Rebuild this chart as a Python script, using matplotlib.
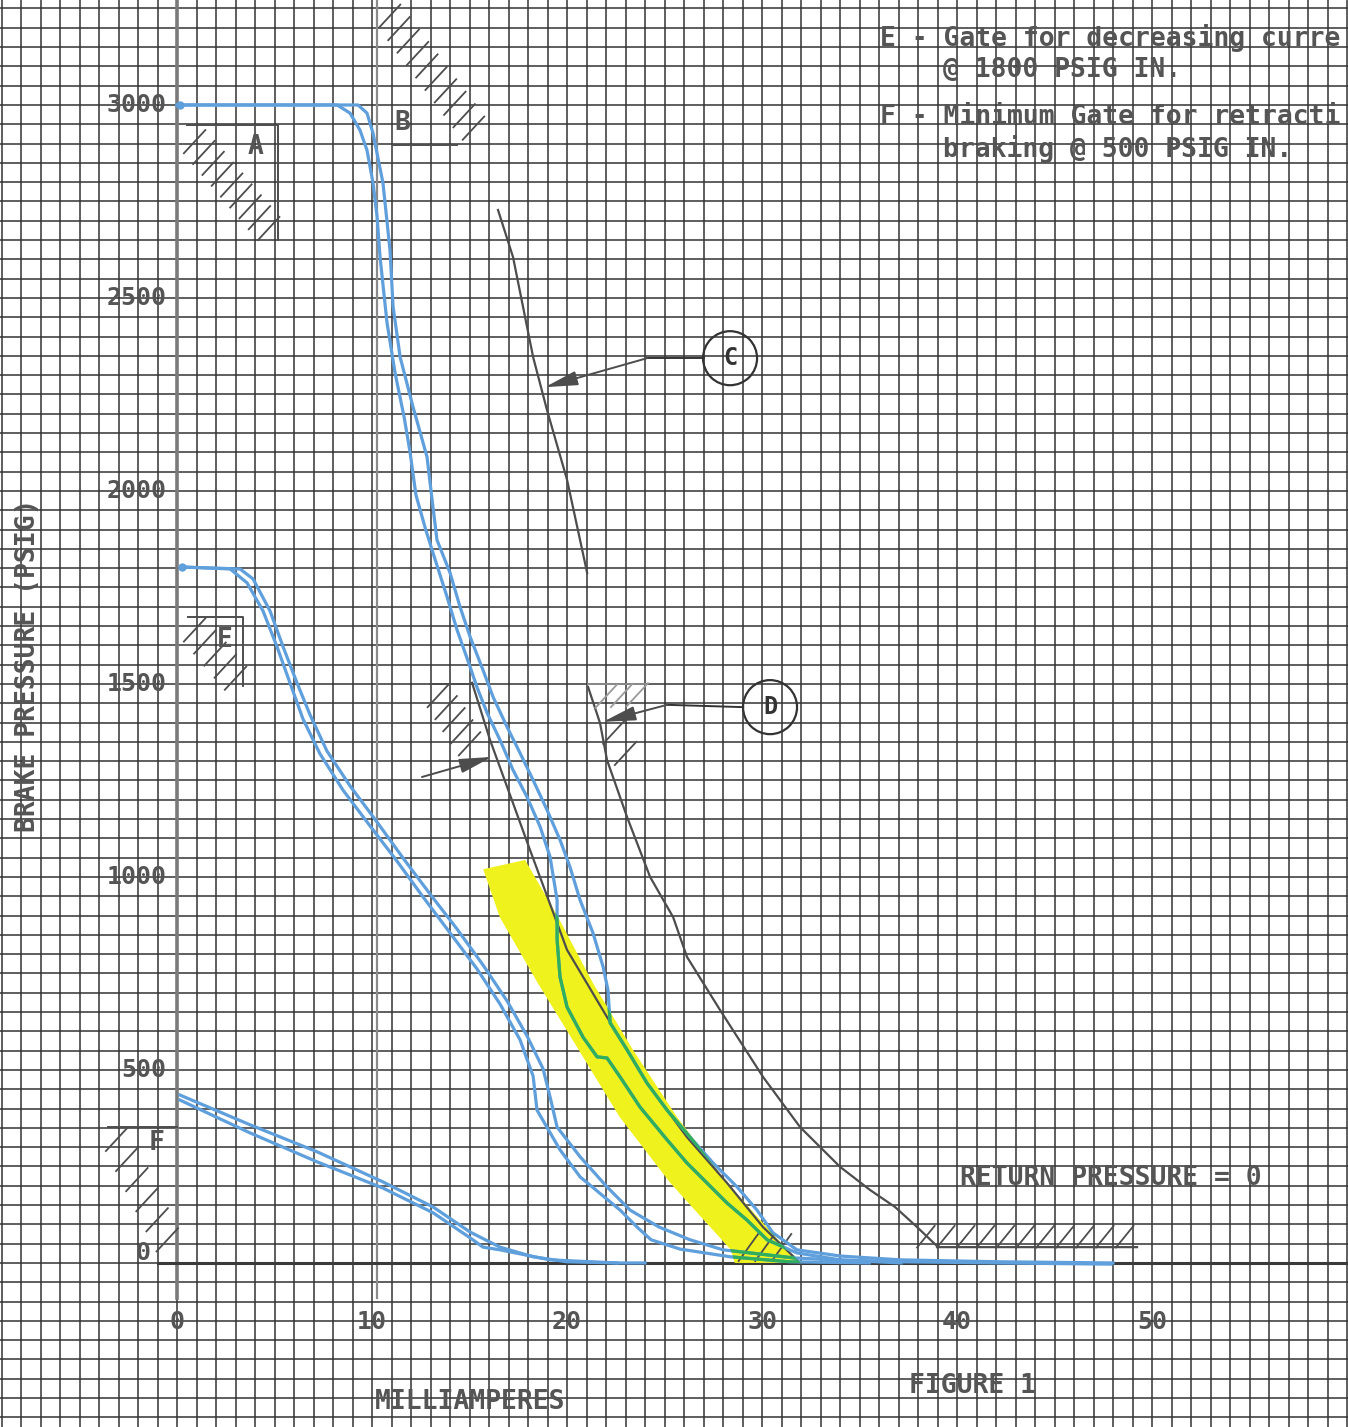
import matplotlib
matplotlib.use('Agg')
import matplotlib.pyplot as plt
from matplotlib.patches import Polygon, Ellipse
import numpy as np

# ---- curves: current (mA) vs brake pressure (psig) ----
hi_in_ma = [0, 8.21, 8.87, 9.38, 9.74, 10.05, 10.26, 10.41, 10.77, 11.18, 11.65, 11.95, 12.25,
            12.75, 13.13, 13.85, 14.36, 15.03, 15.38, 15.90, 16.56, 17.23, 17.95, 18.62, 19.13,
            19.49, 19.49, 19.64, 20.0, 20.82, 21.54, 22.05, 22.72, 23.74, 25.13, 26.15, 27.18,
            28.21, 29.23, 30.26, 31.79, 34.0, 37.1, 42.2, 47.9]
hi_in_psi = [3000, 3000, 2979, 2935, 2883, 2798, 2710, 2606, 2435, 2306, 2190, 2100, 1990,
             1900, 1839, 1725, 1640, 1544, 1492, 1425, 1355, 1277, 1207, 1130, 1052,
             940, 837, 741, 663, 585, 534, 531, 482, 404, 319, 259, 207,
             155, 111, 60, 26, 8, 3, 0, -3]

hi_out_ma = [0, 9.28, 9.74, 10.05, 10.56, 10.92, 11.08, 11.44, 12.10, 12.82, 13.08, 13.33, 14.0,
             14.51, 15.03, 15.69, 16.21, 16.92, 17.59, 18.26, 18.97, 19.64, 20.15, 20.67, 21.33,
             21.85, 22.10, 22.21, 23.08, 24.10, 25.13, 26.31, 27.49, 28.72, 29.74, 30.56, 31.79,
             34.0, 37.1, 42.2, 48.0]
hi_out_psi = [3000, 3000, 2979, 2927, 2798, 2624, 2477, 2347, 2218, 2088, 1977, 1873, 1788,
              1700, 1622, 1536, 1466, 1389, 1321, 1251, 1174, 1096, 1026, 940, 855,
              767, 707, 622, 552, 466, 396, 326, 259, 197, 137, 78, 34,
              18, 8, 3, 0]

mid_in_ma = [0.26, 2.72, 3.59, 4.41, 5.13, 5.79, 6.46, 7.33, 8.51, 9.90, 11.28, 12.62, 14.0,
             15.38, 16.56, 17.59, 18.26, 18.46, 19.64, 20.67, 22.72, 23.59, 24.31, 25.79, 28.36,
             31.4, 35.5]
mid_in_psi = [1803, 1798, 1762, 1689, 1596, 1503, 1409, 1319, 1225, 1132, 1041, 948, 855,
              762, 671, 578, 484, 396, 293, 223, 137, 93, 60, 36, 16,
              3, 0]

mid_out_ma = [0.26, 3.23, 3.90, 4.77, 5.44, 6.15, 6.82, 7.69, 8.87, 10.26, 11.59, 12.97, 14.36,
              15.69, 16.92, 17.95, 18.77, 19.13, 19.49, 20.67, 22.05, 23.23, 24.72, 26.31, 28.0,
              31.64, 37.13]
mid_out_psi = [1803, 1798, 1772, 1689, 1596, 1503, 1420, 1326, 1236, 1142, 1049, 956, 865,
               772, 679, 588, 503, 430, 352, 275, 197, 137, 93, 60, 34,
               13, 0]

lo_up_ma = [0.15, 3.74, 7.18, 10.56, 13.13, 15.03, 16.56, 18.26, 20.0, 22.56, 24.0]
lo_up_psi = [435, 358, 288, 210, 145, 80, 41, 16, 3, 0, 0]
lo_dn_ma = [0.15, 3.74, 7.18, 10.56, 13.13, 15.03, 15.69, 16.56, 19.13, 22.56]
lo_dn_psi = [422, 337, 262, 194, 130, 65, 41, 34, 8, 0]

# gate curves (pencil)
gate_c_ma = [16.46, 17.23, 18.26, 18.97, 20.0, 21.03]
gate_c_psi = [2728, 2606, 2347, 2210, 2029, 1788]
gate_1_ma = [15.13, 16.05, 17.08, 18.10, 20.0, 22.05, 24.10, 26.15, 28.21, 30.05, 31.95]
gate_1_psi = [1503, 1355, 1212, 1070, 811, 637, 466, 326, 207, 93, 0]
gate_d_ma = [21.08, 21.69, 22.05, 23.08, 24.26, 25.44, 26.15, 27.85, 30.05, 31.95, 34.0,
             35.54, 36.82, 37.95, 39.03, 49.23]
gate_d_psi = [1492, 1399, 1303, 1155, 1000, 896, 793, 655, 482, 352, 249,
              189, 145, 93, 41, 41]

# highlighted band
band_ma = [15.70, 17.85, 19.54, 21.33, 23.38, 25.64, 28.21, 31.28, 32.0,
           28.6, 28.4, 25.3, 22.7, 20.6, 18.5, 16.55]
band_psi = [1020, 1044, 896, 725, 552, 378, 207, 34, 0,
            0, 34, 207, 378, 552, 725, 896]

x_ticks = [0, 10, 20, 30, 40, 50]
y_ticks = [0, 500, 1000, 1500, 2000, 2500, 3000]

blue = '#5e9fdc'
green = '#2fae5c'
yellow = '#eff21c'
ink = '#4d4d4d'
typ = '#555555'
mono = 'DejaVu Sans Mono'

fig = plt.figure(figsize=(13.48, 14.27), dpi=100)
ax = fig.add_axes([0, 0, 1, 1])
ax.set_xlim(-9.08, 60.05)
ax.set_ylim(-425, 3272)
ax.axis('off')

# graph paper
for gx in np.arange(-9, 61, 1):
    ax.axvline(gx, color='#333333', lw=1.1, zorder=1)
for gy in np.arange(-400, 3300, 50):
    ax.axhline(gy, color='#333333', lw=1.1, zorder=1)

# drawn axes
ax.plot([0, 0], [-90, 3272], color='#7a7a7a', lw=2.6, zorder=2)
ax.plot([10.26, 10.26], [-90, 3272], color='#8a8a8a', lw=1.6, zorder=2)
ax.plot([-1.0, 60.05], [0, 0], color='#3a3a3a', lw=2.2, zorder=2)

band = Polygon(np.column_stack([band_ma, band_psi]), closed=True,
               facecolor=yellow, edgecolor='none', zorder=2)
ax.add_patch(band)

for xs, ys in [(gate_c_ma, gate_c_psi), (gate_1_ma, gate_1_psi), (gate_d_ma, gate_d_psi)]:
    ax.plot(xs, ys, color=ink, lw=1.6, zorder=3)


def hatch(x0, y0, x1, y1, n, dx=0.55, dy=30, color=ink, lw=1.3):
    for t in np.linspace(0, 1, n):
        cx = x0 + t * (x1 - x0)
        cy = y0 + t * (y1 - y0)
        ax.plot([cx - dx, cx + dx], [cy - dy, cy + dy], color=color, lw=lw, zorder=3)


# gate A
ax.plot([0.51, 5.18, 5.18], [2948, 2948, 2650], color=ink, lw=1.4, zorder=3)
hatch(0.9, 2905, 4.7, 2680, 9)
# gate B
ax.plot([11.08, 14.36], [2896, 2896], color=ink, lw=1.4, zorder=3)
hatch(10.9, 3230, 15.2, 2940, 10)
# gate E
ax.plot([0.56, 3.38, 3.38], [1674, 1674, 1495], color=ink, lw=1.4, zorder=3)
hatch(0.9, 1640, 3.0, 1515, 5)
# gate F
ax.plot([-3.54, 0], [352, 352], color=ink, lw=1.4, zorder=3)
hatch(-3.1, 320, -0.5, 60, 6)
# top of lower gate curve
ax.plot([12.97, 15.13], [1500, 1500], color=ink, lw=1.4, zorder=3)
hatch(13.4, 1470, 15.0, 1345, 5)
# D gate top and bottom
ax.plot([21.08, 24.0], [1500, 1500], color='#8a8a8a', lw=1.4, zorder=3)
hatch(22.0, 1468, 23.6, 1472, 3, color='#9a9a9a')
hatch(22.4, 1375, 23.0, 1320, 2)
hatch(38.4, 68, 48.6, 68, 11, dx=0.45, dy=28)
hatch(29.3, 40, 31.0, 40, 3, dx=0.5, dy=35)

# blue pen curves, green where they cross the highlighter
series = [(hi_in_ma, hi_in_psi), (hi_out_ma, hi_out_psi), (mid_in_ma, mid_in_psi),
          (mid_out_ma, mid_out_psi), (lo_up_ma, lo_up_psi), (lo_dn_ma, lo_dn_psi)]
for xs, ys in series:
    ax.plot(xs, ys, color=blue, lw=2.3, solid_joinstyle='round', zorder=4)
    g, = ax.plot(xs, ys, color=green, lw=2.3, solid_joinstyle='round', zorder=5)
    g.set_clip_path(band)
ax.plot([0.15, 0.26], [3000, 1803], 'o', color=blue, ms=5, zorder=4)

# callouts
for cx, cy, lab in [(28.36, 2344, 'C'), (30.41, 1440, 'D')]:
    ax.add_patch(Ellipse((cx, cy), 2.77, 140, facecolor='none', edgecolor='#333333',
                         lw=1.6, zorder=4))
    ax.text(cx, cy, lab, ha='center', va='center', fontsize=17, family=mono,
            fontweight='bold', color='#333333', zorder=6)
arrow = dict(arrowstyle='-|>,head_length=1.0,head_width=0.22', color=ink, lw=1.4,
             shrinkA=0, shrinkB=0, mutation_scale=20)
ax.plot([27.0, 24.10], [2344, 2344], color='#333333', lw=1.4, zorder=4)
ax.annotate('', xy=(18.87, 2269), xytext=(24.10, 2344), arrowprops=arrow, zorder=4)
ax.plot([29.03, 25.13], [1440, 1446], color='#333333', lw=1.4, zorder=4)
ax.annotate('', xy=(21.85, 1402), xytext=(25.13, 1446), arrowprops=arrow, zorder=4)
ax.annotate('', xy=(16.15, 1311), xytext=(12.56, 1259), arrowprops=arrow, zorder=4)

# tick labels
for v in y_ticks:
    ax.text(-1.38 if v == 0 else -0.55, v + (25 if v == 0 else 0), str(v), ha='right',
            va='center', fontsize=18, family=mono, fontweight='bold', color=typ, zorder=6)
for v in x_ticks:
    ax.text(v, -153, str(v), ha='center', va='center', fontsize=18, family=mono,
            fontweight='bold', color=typ, zorder=6)

tk = dict(fontsize=19, family=mono, fontweight='bold', color=typ, zorder=6)
ax.text(-7.64, 1549, 'BRAKE PRESSURE (PSIG)', rotation=90, ha='center', va='center', **tk)
ax.text(15.03, -360, 'MILLIAMPERES', ha='center', va='center', **tk)
ax.text(40.77, -319, 'FIGURE 1', ha='center', va='center', **tk)
ax.text(40.15, 220, 'RETURN PRESSURE = 0', ha='left', va='center', **tk)
ax.text(36.05, 3174, 'E - Gate for decreasing curre', ha='left', va='center', **tk)
ax.text(39.28, 3091, '@ 1800 PSIG IN.', ha='left', va='center', **tk)
ax.text(36.05, 2969, 'F - Minimum Gate for retracti', ha='left', va='center', **tk)
ax.text(39.28, 2886, 'braking @ 500 PSIG IN.', ha='left', va='center', **tk)
ax.text(4.0, 2890, 'A', ha='center', va='center', **tk)
ax.text(11.54, 2953, 'B', ha='center', va='center', **tk)
ax.text(2.46, 1614, 'E', ha='center', va='center', **tk)
ax.text(-1.03, 311, 'F', ha='center', va='center', **tk)

fig.savefig('out.png', dpi=100, facecolor='white')
